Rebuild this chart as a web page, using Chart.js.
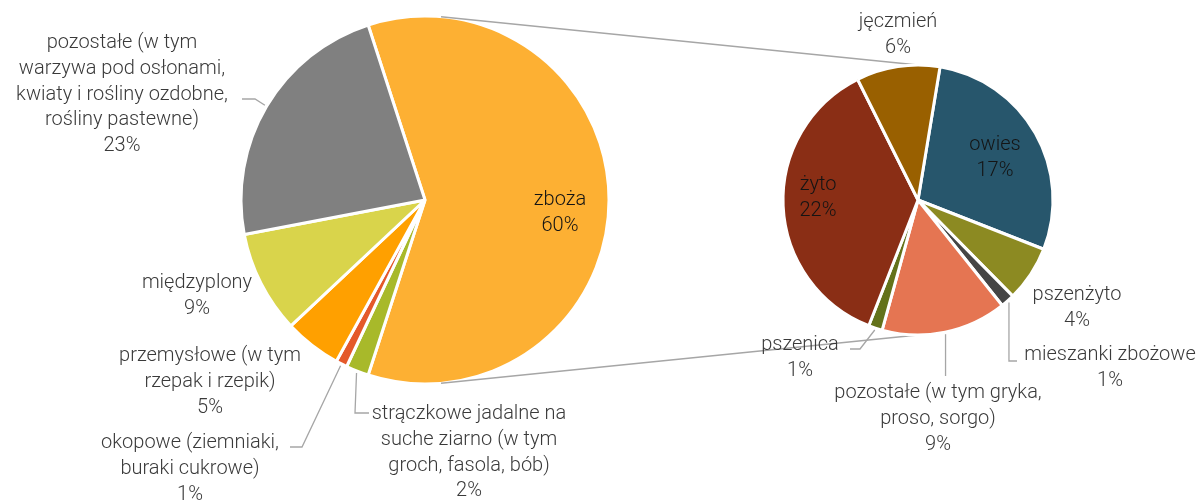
<!DOCTYPE html>
<html><head><meta charset="utf-8">
<script src="https://cdn.jsdelivr.net/npm/chart.js@4.4.0/dist/chart.umd.min.js"></script>
<style>
html,body{margin:0;padding:0;background:#fff;}
#wrap{position:relative;width:1200px;height:502px;}
canvas{position:absolute;left:0;top:0;}
</style>
</head><body>
<div id="wrap"><canvas id="c1" width="1200" height="502"></canvas><canvas id="c2" width="1200" height="502"></canvas></div>
<script>
// ---- data ----
const mainCategories = ['zboża', 'strączkowe jadalne na suche ziarno (w tym groch, fasola, bób)', 'okopowe (ziemniaki, buraki cukrowe)', 'przemysłowe (w tym rzepak i rzepik)', 'międzyplony', 'pozostałe (w tym warzywa pod osłonami, kwiaty i rośliny ozdobne, rośliny pastewne)'];
const mainLabelLines = [
  ['zboża'],
  ['strączkowe jadalne na', 'suche ziarno (w tym', 'groch, fasola, bób)'],
  ['okopowe (ziemniaki,', 'buraki cukrowe)'],
  ['przemysłowe (w tym', 'rzepak i rzepik)'],
  ['międzyplony'],
  ['pozostałe (w tym', 'warzywa pod osłonami,', 'kwiaty i rośliny ozdobne,', 'rośliny pastewne)']
];
const mainValues = [60, 2, 1, 5, 9, 23];
const mainPercent = ['60%', '2%', '1%', '5%', '9%', '23%'];
const mainColors = ['#FDB033', '#A8B92A', '#E4592A', '#FFA000', '#D9D44B', '#808080'];

const subCategories = ['owies', 'pszenżyto', 'mieszanki zbożowe', 'pozostałe (w tym gryka, proso, sorgo)', 'pszenica', 'żyto', 'jęczmień'];
const subLabelLines = [
  ['owies'], ['pszenżyto'], ['mieszanki zbożowe'], ['pozostałe (w tym gryka,', 'proso, sorgo)'], ['pszenica'], ['żyto'], ['jęczmień']
];
const subValues = [17, 4, 1, 9, 1, 22, 6];
const subPercent = ['17%', '4%', '1%', '9%', '1%', '22%', '6%'];
const subColors = ['#27566C', '#8C8A22', '#454545', '#E57552', '#63721A', '#8A2E15', '#996000'];

// ---- layout (label placement only) ----
const mainLayout = [
  {x: 560, y: 200, inside: true},
  {x: 469, y: 414, leader: [[355, 413], [369, 413]]},
  {x: 190, y: 443, leader: [[302, 447], [290, 447]]},
  {x: 210, y: 356},
  {x: 197, y: 283},
  {x: 122, y: 43, leader: [[255, 99], [242, 99]]}
];
const subLayout = [
  {x: 995, y: 145, inside: true},
  {x: 1077, y: 295},
  {x: 1110, y: 355, leader: [[null, 361], [1017, 361]]},
  {x: 938, y: 393, leader: [[null, 376]]},
  {x: 800, y: 345, leader: [[860, 349], [850, 349]]},
  {x: 818, y: 185, inside: true},
  {x: 898, y: 22}
];

const FONT = '300 20px Roboto, "Liberation Sans", sans-serif';
const TEXT = '#3A3A3A';
const TEXT_IN = '#141414';
const LINE_GRAY = '#A6A6A6';
const LH = 25.8;

function labelPlugin(id, lines, pct, layout) {
  return {
    id,
    afterDraw(chart) {
      const ctx = chart.ctx;
      const arcs = chart.getDatasetMeta(0).data;
      ctx.save();
      ctx.strokeStyle = LINE_GRAY;
      ctx.lineWidth = 1.3;
      arcs.forEach((arc, i) => {
        const L = layout[i];
        if (!L.leader) return;
        const mid = (arc.startAngle + arc.endAngle) / 2;
        const r = arc.outerRadius + 2;
        const sx = arc.x + Math.cos(mid) * r, sy = arc.y + Math.sin(mid) * r;
        ctx.beginPath();
        ctx.moveTo(sx, sy);
        L.leader.forEach(p => ctx.lineTo(p[0] === null ? sx : p[0], p[1]));
        ctx.stroke();
      });
      ctx.font = FONT;
      ctx.textAlign = 'center';
      ctx.textBaseline = 'middle';
      arcs.forEach((arc, i) => {
        const L = layout[i];
        ctx.fillStyle = L.inside ? TEXT_IN : TEXT;
        const all = lines[i].concat([pct[i]]);
        all.forEach((t, k) => ctx.fillText(t, L.x, L.y + k * LH));
      });
      ctx.restore();
    }
  };
}

const common = {
  responsive: false,
  animation: false,
  events: [],
  plugins: {legend: {display: false}, tooltip: {enabled: false}}
};

const chart1 = new Chart(document.getElementById('c1'), {
  type: 'pie',
  data: {labels: mainCategories, datasets: [{data: mainValues, backgroundColor: mainColors, borderColor: '#ffffff', borderWidth: 3}]},
  options: Object.assign({}, common, {
    rotation: -18,
    radius: 184,
    layout: {padding: {left: 0, right: 350, top: 0, bottom: 102}}
  }),
  plugins: [labelPlugin('mainLabels', mainLabelLines, mainPercent, mainLayout)]
});

const connectorPlugin = {
  id: 'connectors',
  beforeDraw(chart) {
    const a = chart1.getDatasetMeta(0).data[0];
    const b = chart.getDatasetMeta(0).data[0];
    const ctx = chart.ctx;
    const R1 = a.outerRadius, R2 = b.outerRadius;
    const ang = 5 * Math.PI / 180;
    ctx.save();
    ctx.strokeStyle = LINE_GRAY;
    ctx.lineWidth = 1.5;
    ctx.beginPath();
    ctx.moveTo(a.x + Math.sin(ang) * R1, a.y - Math.cos(ang) * R1);
    ctx.lineTo(b.x, b.y - R2);
    ctx.moveTo(a.x + Math.sin(ang) * R1, a.y + Math.cos(ang) * R1);
    ctx.lineTo(b.x, b.y + R2);
    ctx.stroke();
    ctx.restore();
  }
};

const chart2 = new Chart(document.getElementById('c2'), {
  type: 'pie',
  data: {labels: subCategories, datasets: [{data: subValues, backgroundColor: subColors, borderColor: '#ffffff', borderWidth: 3}]},
  options: Object.assign({}, common, {
    rotation: 9.4,
    radius: 135,
    layout: {padding: {left: 636, right: 0, top: 0, bottom: 102}}
  }),
  plugins: [connectorPlugin, labelPlugin('subLabels', subLabelLines, subPercent, subLayout)]
});
</script>
</body></html>
